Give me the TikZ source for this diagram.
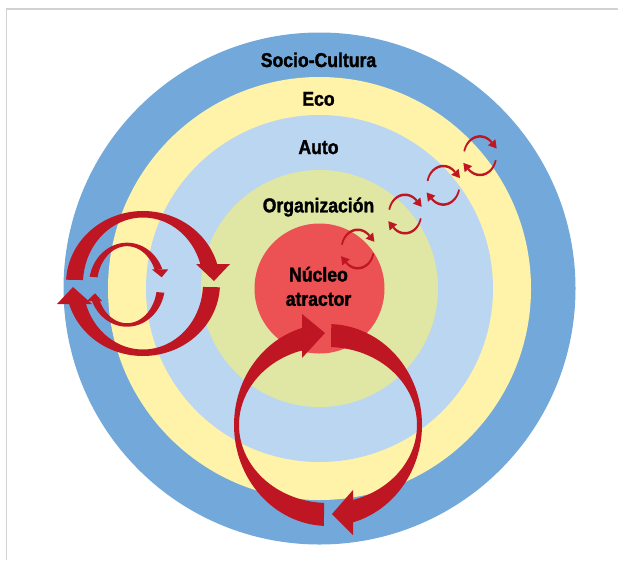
\documentclass[tikz,border=0pt]{standalone}
\usepackage{fontspec}
\setmainfont{Liberation Sans}[FakeStretch=0.88, BoldFeatures={FakeBold=1.6}]
\usetikzlibrary{calc}

\definecolor{ringSocio}{HTML}{73A9DA}
\definecolor{ringEco}{HTML}{FFF3A9}
\definecolor{ringAuto}{HTML}{BBD6F1}
\definecolor{ringOrg}{HTML}{E0E6A3}
\definecolor{coreRed}{HTML}{EC5154}
\definecolor{arrowRed}{HTML}{BE1622}
\definecolor{frameGray}{HTML}{D2D2D2}

% Tapered band between an outer and an inner ellipse arc:
% {cx}{cy}{outer rx}{outer ry}{inner rx}{inner ry}{from angle}{to angle}
\newcommand\bandpath[8]{%
  plot[domain=#7:#8,samples=60,variable=\t]({#1+#3*cos(\t)},{#2+#4*sin(\t)})
  -- plot[domain=#8:#7,samples=60,variable=\t]({#1+#5*cos(\t)},{#2+#6*sin(\t)}) -- cycle}

% Triangular head placed on an ellipse at a given angle, pointing along the tangent:
% {cx}{cy}{rx}{ry}{angle}{direction +1/-1}{length}{half width}
\newcommand\headat[8]{%
  \pgfmathsetmacro\ahX{#1+#3*cos(#5)}%
  \pgfmathsetmacro\ahY{#2+#4*sin(#5)}%
  \pgfmathsetmacro\ahTx{-(#3)*sin(#5)*(#6)}%
  \pgfmathsetmacro\ahTy{(#4)*cos(#5)*(#6)}%
  \pgfmathsetmacro\ahN{sqrt((\ahTx)*(\ahTx)+(\ahTy)*(\ahTy))}%
  \pgfmathsetmacro\ahUx{(\ahTx)/(\ahN)}%
  \pgfmathsetmacro\ahUy{(\ahTy)/(\ahN)}%
  \fill[arrowfill] ({\ahX+(#8)*(\ahUy)},{\ahY-(#8)*(\ahUx)})
    -- ({\ahX+(#7)*(\ahUx)},{\ahY+(#7)*(\ahUy)})
    -- ({\ahX-(#8)*(\ahUy)},{\ahY+(#8)*(\ahUx)}) -- cycle;}

% Small pair of circling arrows around a centre
\newcommand\smallloop[2]{%
  \fill[arrowfill] \bandpath{#1}{#2}{17}{20.5}{15.3}{18}{193}{316};
  \headat{#1}{#2}{16.2}{19.3}{316}{1}{8}{4.8}
  \fill[arrowfill] \bandpath{#1}{#2}{17}{20.5}{15.3}{18}{13}{136};
  \headat{#1}{#2}{16.2}{19.3}{136}{1}{8}{4.8}}

\begin{document}
\begin{tikzpicture}[x=1pt,y=-1pt,
  label/.style={font=\bfseries\fontsize{20}{24}\selectfont, text=black, anchor=base, inner sep=0pt},
  arrowfill/.style={fill=arrowRed},
  frameline/.style={draw=frameGray, line width=1.5pt}]
\useasboundingbox (0,0) rectangle (618,560);

% page frame
\coordinate (frameTL) at (6.5,9);
\coordinate (frameTR) at (618,9);
\coordinate (frameBL) at (6.5,560);
\draw[frameline] (frameTR) -- (frameTL) -- (frameBL);

% nested spheres
\coordinate (c) at (319.5,288.5);
\fill[ringSocio] (c) circle[radius=256];
\fill[ringEco]   (c) circle[radius=211.5];
\fill[ringAuto]  (c) circle[radius=173.5];
\fill[ringOrg]   (c) circle[radius=118.5];
\fill[coreRed]   (c) circle[radius=65];

% level names
\node[label] (socio)    at (318.5,67)    {Socio-Cultura};
\node[label] (eco)      at (318.5,105.7) {Eco};
\node[label] (auto)     at (318.5,154)   {Auto};
\node[label] (org)      at (318.5,212.3) {Organización};
\node[label] (nucleo)   at (318.5,281.5) {Núcleo};
\node[label] (atractor) at (318.5,305.8) {atractor};

% large loop through the core
\fill[arrowfill] \bandpath{328}{425}{94}{101}{89}{78}{92.5}{254};
\fill[arrowfill] (302,314) -- (325,333) -- (302,358) -- cycle;
\fill[arrowfill] \bandpath{328}{425}{94}{101}{89}{78}{272}{434.6};
\fill[arrowfill] (353,490) -- (332,514) -- (353,535) -- cycle;

% outer loop on the left
\fill[arrowfill] \bandpath{143}{283.5}{77}{72.5}{60}{66}{183}{344.4};
\fill[arrowfill] (196,264) -- (214,281) -- (230,264) -- cycle;
\fill[arrowfill] \bandpath{143}{283.5}{77}{72.5}{60}{66}{3}{163.6};
\fill[arrowfill] (57,304) -- (73,287) -- (92,304) -- cycle;

% inner loop on the left
\fill[arrowfill] \bandpath{127}{284.7}{38}{42}{30}{38.5}{191}{338};
\fill[arrowfill] (151.7,269.3) -- (161.7,277.3) -- (168.3,269.3) -- cycle;
\fill[arrowfill] \bandpath{127}{284.7}{38}{42}{30}{38.5}{11}{157};
\fill[arrowfill] (87,301) -- (95,293.3) -- (102,301) -- cycle;

% chain of small loops
\smallloop{357.7}{249}
\smallloop{405}{214}
\smallloop{443.3}{185.3}
\smallloop{480}{155.7}
\end{tikzpicture}
\end{document}
